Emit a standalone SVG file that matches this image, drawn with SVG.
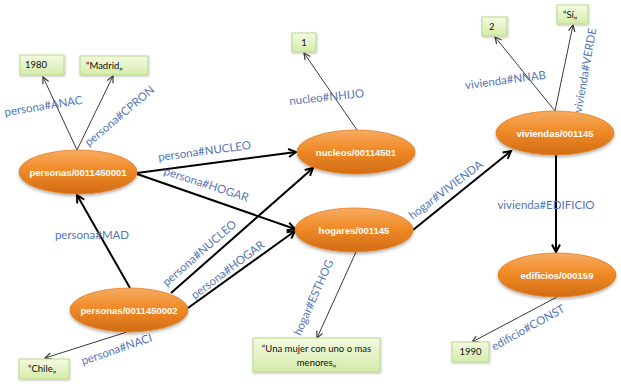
<svg xmlns="http://www.w3.org/2000/svg" width="621" height="384" viewBox="0 0 621 384">
<style>
.node ellipse{fill:url(#og);stroke:#e47c1e;stroke-width:0.8;filter:url(#sh)}
.node text{font-family:"Liberation Sans",Arial,sans-serif;font-weight:bold;font-size:9.5px;fill:#fff;text-anchor:middle}
.lit rect{fill:url(#gg);stroke:#b9d98c;stroke-width:1;filter:url(#sh2)}
.lit text{font-family:Lato,"Liberation Sans",sans-serif;font-size:9.5px;fill:#111}
.thick{stroke:#000;stroke-width:2;fill:none;marker-end:url(#ak)}
.thin{stroke:#3a3a3a;stroke-width:1;fill:none;marker-end:url(#at)}
.lbl{font-family:Lato,"Liberation Sans",sans-serif;font-size:11.5px;fill:#5476b8;text-anchor:middle}
</style>
<defs>
<linearGradient id="og" x1="0" y1="0" x2="0" y2="1">
<stop offset="0" stop-color="#f7ab62"/>
<stop offset="0.45" stop-color="#f08b28"/>
<stop offset="1" stop-color="#d26c15"/>
</linearGradient>
<linearGradient id="gg" x1="0" y1="0" x2="0" y2="1">
<stop offset="0" stop-color="#f3fae2"/>
<stop offset="1" stop-color="#d5eba9"/>
</linearGradient>
<filter id="sh" x="-20%" y="-30%" width="140%" height="170%">
<feDropShadow dx="0" dy="2" stdDeviation="1.5" flood-color="#000" flood-opacity="0.3"/>
</filter>
<filter id="sh2" x="-20%" y="-30%" width="140%" height="170%">
<feDropShadow dx="0.5" dy="1" stdDeviation="0.8" flood-color="#000" flood-opacity="0.25"/>
</filter>
<marker id="ak" markerUnits="userSpaceOnUse" markerWidth="14" markerHeight="12" refX="10" refY="5" orient="auto" overflow="visible">
<path d="M2.5,1 L10,5 L2.5,9" fill="none" stroke="#000" stroke-width="2"/>
</marker>
<marker id="at" markerUnits="userSpaceOnUse" markerWidth="12" markerHeight="10" refX="8" refY="4" orient="auto" overflow="visible">
<path d="M1.5,0.8 L8,4 L1.5,7.2" fill="none" stroke="#3a3a3a" stroke-width="1.2"/>
</marker>
</defs>
<rect width="621" height="384" fill="#fff"/>

<g id="connectors">
<line class="thin" x1="77" y1="150" x2="43" y2="77"/>
<line class="thin" x1="77" y1="150" x2="113" y2="76"/>
<line class="thick" x1="137" y1="173" x2="296" y2="152"/>
<line class="thick" x1="137" y1="174" x2="295" y2="229"/>
<line class="thick" x1="130" y1="288" x2="77" y2="195"/>
<line class="thick" x1="171" y1="293" x2="313" y2="168"/>
<line class="thick" x1="188" y1="308" x2="295" y2="231"/>
<line class="thin" x1="127" y1="332" x2="45" y2="358"/>
<line class="thin" x1="357" y1="130" x2="304" y2="53"/>
<line class="thin" x1="356" y1="252" x2="317" y2="338"/>
<line class="thick" x1="413" y1="230" x2="511" y2="151"/>
<line class="thin" x1="555" y1="111" x2="495" y2="37"/>
<line class="thin" x1="555" y1="111" x2="573" y2="25"/>
<line class="thick" x1="556" y1="155" x2="556" y2="252"/>
<line class="thin" x1="557" y1="297" x2="472" y2="342"/>

<text class="lbl" transform="translate(44,110) rotate(-9)">persona#ANAC</text>
<text class="lbl" transform="translate(122,119) rotate(-40)">persona#CPRON</text>
<text class="lbl" transform="translate(205,155) rotate(-7.5)">persona#NUCLEO</text>
<text class="lbl" transform="translate(205,188) rotate(18)">persona#HOGAR</text>
<text class="lbl" x="92" y="239">persona#MAD</text>
<text class="lbl" transform="translate(202,256) rotate(-41)">persona#NUCLEO</text>
<text class="lbl" transform="translate(230,273) rotate(-37)">persona#HOGAR</text>
<text class="lbl" transform="translate(118,353) rotate(-19)">persona#NACI</text>
<text class="lbl" transform="translate(327,101) rotate(-6)">nucleo#NHIJO</text>
<text class="lbl" transform="translate(317,299) rotate(-66)">hogar#ESTHOG</text>
<text class="lbl" transform="translate(448,193) rotate(-37)">hogar#VIVIENDA</text>
<text class="lbl" transform="translate(506,84) rotate(-7.5)">vivienda#NNAB</text>
<text class="lbl" transform="translate(589,71) rotate(-80)">vivienda#VERDE</text>
<text class="lbl" x="546" y="209">vivienda#EDIFICIO</text>
<text class="lbl" transform="translate(530,331) rotate(-29)">edificio#CONST</text>
</g>

<g id="n_personas1" class="node"><ellipse cx="78" cy="172" rx="59" ry="22"/><text x="78" y="176">personas/0011450001</text></g>
<g id="n_personas2" class="node"><ellipse cx="129" cy="310" rx="59" ry="22"/><text x="129" y="314">personas/0011450002</text></g>
<g id="n_nucleos" class="node"><ellipse cx="356" cy="152" rx="59" ry="22"/><text x="356" y="156">nucleos/00114501</text></g>
<g id="n_hogares" class="node"><ellipse cx="354" cy="230" rx="59" ry="22"/><text x="354" y="234">hogares/001145</text></g>
<g id="n_viviendas" class="node"><ellipse cx="555" cy="133" rx="59" ry="22"/><text x="555" y="137">viviendas/001145</text></g>
<g id="n_edificios" class="node"><ellipse cx="557" cy="275" rx="59" ry="22"/><text x="557" y="279">edificios/000159</text></g>

<g id="v_1980" class="lit"><rect x="20" y="55" width="44" height="20"/><text x="25" y="68">1980</text></g>
<g id="v_madrid" class="lit"><rect x="80" y="56" width="68" height="19"/><text x="86" y="69">“Madrid„</text></g>
<g id="v_1" class="lit"><rect x="292" y="33" width="24" height="19"/><text x="304" y="46" text-anchor="middle">1</text></g>
<g id="v_chile" class="lit"><rect x="19" y="359" width="50" height="20"/><text x="28" y="372">“Chile„</text></g>
<g id="v_mujer" class="lit"><rect x="253" y="338" width="127" height="34"/><text x="316.5" y="352" text-anchor="middle">“Una mujer con uno o mas</text><text x="316.5" y="366" text-anchor="middle">menores„</text></g>
<g id="v_2" class="lit"><rect x="482" y="17" width="25" height="19"/><text x="489" y="30">2</text></g>
<g id="v_si" class="lit"><rect x="557" y="5" width="31" height="19"/><text x="563" y="18">“Sí„</text></g>
<g id="v_1990" class="lit"><rect x="452" y="342" width="37" height="20"/><text x="470.5" y="355" text-anchor="middle">1990</text></g>
</svg>
